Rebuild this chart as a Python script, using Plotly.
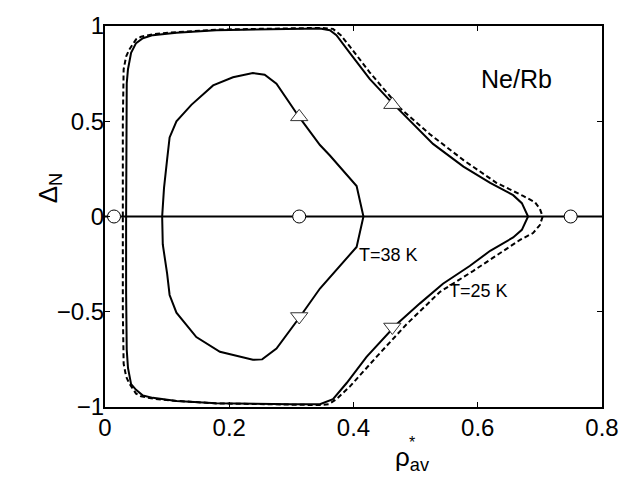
import plotly.graph_objects as go

# T=25 K solid outer curve (upper half, then lower half)
out_x_up = [0.034, 0.034, 0.035, 0.037, 0.042, 0.050, 0.061, 0.077, 0.115, 0.179, 0.250, 0.300, 0.346, 0.362, 0.3725, 0.394, 0.426, 0.458, 0.491, 0.528, 0.577, 0.620, 0.657, 0.671, 0.681]
out_y_up = [0.000, 0.400, 0.700, 0.773, 0.859, 0.910, 0.936, 0.952, 0.964, 0.978, 0.982, 0.985, 0.987, 0.978, 0.952, 0.859, 0.722, 0.611, 0.500, 0.381, 0.262, 0.177, 0.112, 0.070, 0.000]
out_x_lo = [0.681, 0.671, 0.657, 0.620, 0.587, 0.544, 0.507, 0.469, 0.421, 0.389, 0.367, 0.346, 0.300, 0.250, 0.179, 0.115, 0.077, 0.061, 0.050, 0.042, 0.037, 0.035, 0.034, 0.034]
out_y_lo = [0.000, -0.070, -0.110, -0.180, -0.260, -0.353, -0.456, -0.567, -0.737, -0.874, -0.959, -0.985, -0.986, -0.985, -0.980, -0.968, -0.952, -0.940, -0.910, -0.880, -0.795, -0.700, -0.400, 0.000]

# T=25 K dashed outer curve
dash_x_up = [0.0287, 0.0287, 0.030, 0.034, 0.039, 0.050, 0.058, 0.080, 0.115, 0.179, 0.250, 0.300, 0.346, 0.367, 0.380, 0.394, 0.426, 0.475, 0.523, 0.577, 0.630, 0.673, 0.692, 0.700, 0.7045]
dash_y_up = [0.000, 0.500, 0.773, 0.840, 0.876, 0.930, 0.944, 0.958, 0.968, 0.981, 0.985, 0.988, 0.990, 0.985, 0.950, 0.893, 0.757, 0.569, 0.432, 0.296, 0.177, 0.108, 0.075, 0.040, 0.000]
dash_x_lo = [0.7045, 0.700, 0.689, 0.668, 0.593, 0.539, 0.485, 0.437, 0.394, 0.3725, 0.360, 0.346, 0.300, 0.250, 0.179, 0.115, 0.080, 0.058, 0.050, 0.039, 0.034, 0.030, 0.0287, 0.0287]
dash_y_lo = [0.000, -0.045, -0.087, -0.123, -0.285, -0.396, -0.567, -0.737, -0.893, -0.959, -0.985, -0.990, -0.988, -0.985, -0.981, -0.968, -0.958, -0.944, -0.930, -0.876, -0.840, -0.773, -0.500, 0.000]

# T=38 K inner curve
in_x = [0.092, 0.095, 0.100, 0.104, 0.115, 0.139, 0.174, 0.206, 0.238, 0.257, 0.276, 0.313, 0.346, 0.362, 0.405, 0.416,
        0.405, 0.362, 0.346, 0.313, 0.276, 0.253, 0.238, 0.185, 0.147, 0.115, 0.104, 0.100, 0.093, 0.092]
in_y = [0.000, 0.150, 0.300, 0.415, 0.500, 0.586, 0.688, 0.731, 0.753, 0.744, 0.697, 0.520, 0.375, 0.320, 0.160, 0.000,
        -0.160, -0.320, -0.378, -0.530, -0.693, -0.750, -0.752, -0.710, -0.633, -0.505, -0.412, -0.300, -0.147, 0.000]

# zero line and markers
zero_x = [0.0, 0.8]
zero_y = [0.0, 0.0]
circ_x = [0.0145, 0.3126, 0.7496]
circ_y = [0.0, 0.0, 0.0]
tri_up_x = [0.3126, 0.4625]
tri_up_y = [0.523, 0.587]
tri_dn_x = [0.3126, 0.4625]
tri_dn_y = [-0.525, -0.580]

x_ticks = [0, 0.2, 0.4, 0.6, 0.8]
x_ticktext = ["0", "0.2", "0.4", "0.6", "0.8"]
y_ticks = [-1, -0.5, 0, 0.5, 1]
y_ticktext = ["\u22121", "\u22120.5", "0", "0.5", "1"]

FONT = "Liberation Sans, Arial, Helvetica, sans-serif"
LW = 2

fig = go.Figure()
fig.add_trace(go.Scatter(x=zero_x, y=zero_y, mode="lines", line=dict(color="black", width=LW)))
fig.add_trace(go.Scatter(x=dash_x_up + dash_x_lo, y=dash_y_up + dash_y_lo, mode="lines",
                         line=dict(color="black", width=LW, dash="5px,3px")))
fig.add_trace(go.Scatter(x=out_x_up + out_x_lo, y=out_y_up + out_y_lo, mode="lines",
                         line=dict(color="black", width=LW)))
fig.add_trace(go.Scatter(x=in_x, y=in_y, mode="lines", line=dict(color="black", width=LW)))
fig.add_trace(go.Scatter(x=circ_x, y=circ_y, mode="markers",
                         marker=dict(symbol="circle", size=13, color="white", line=dict(color="black", width=1))))
fig.add_trace(go.Scatter(x=tri_up_x, y=tri_up_y, mode="markers",
                         marker=dict(symbol="triangle-up", size=15, color="white", line=dict(color="#333", width=1))))
fig.add_trace(go.Scatter(x=tri_dn_x, y=tri_dn_y, mode="markers",
                         marker=dict(symbol="triangle-down", size=15, color="white", line=dict(color="#333", width=1))))

fig.update_layout(
    width=642, height=481,
    margin=dict(l=105, r=40, t=16, b=74),
    paper_bgcolor="white", plot_bgcolor="white",
    showlegend=False,
    font=dict(family=FONT, color="black", size=24),
    xaxis=dict(range=[0, 0.8], tickvals=x_ticks, ticktext=x_ticktext, ticks="inside", ticklen=5,
               tickwidth=1, tickcolor="black", showline=True, linecolor="black", linewidth=LW,
               mirror="ticks", showgrid=False, zeroline=False, tickfont=dict(size=24),
               ticklabelstandoff=-2),
    yaxis=dict(range=[-1, 1], tickvals=y_ticks, ticktext=y_ticktext, ticks="inside", ticklen=5,
               tickwidth=1, tickcolor="black", showline=True, linecolor="black", linewidth=LW,
               mirror="ticks", showgrid=False, zeroline=False, tickfont=dict(size=24),
               ticklabelstandoff=-6),
    annotations=[
        dict(x=0.663, y=0.72, xref="x", yref="y", text="Ne/Rb", showarrow=False, font=dict(size=25)),
        dict(x=0.457, y=-0.20, xref="x", yref="y", text="T=38 K", showarrow=False, font=dict(size=18)),
        dict(x=0.602, y=-0.39, xref="x", yref="y", text="T=25 K", showarrow=False, font=dict(size=18)),
        dict(x=-0.149, y=0.575, xref="paper", yref="paper", text="Δ<sub>N</sub>", textangle=-90,
             showarrow=False, font=dict(size=26)),
        dict(x=0.618, y=-0.185, xref="paper", yref="paper", text="ρ<sub>av</sub>",
             showarrow=False, font=dict(size=26)),
        dict(x=0.6175, y=-0.12, xref="paper", yref="paper", text="*",
             showarrow=False, font=dict(size=16)),
    ],
)

fig.write_html("out.html")
